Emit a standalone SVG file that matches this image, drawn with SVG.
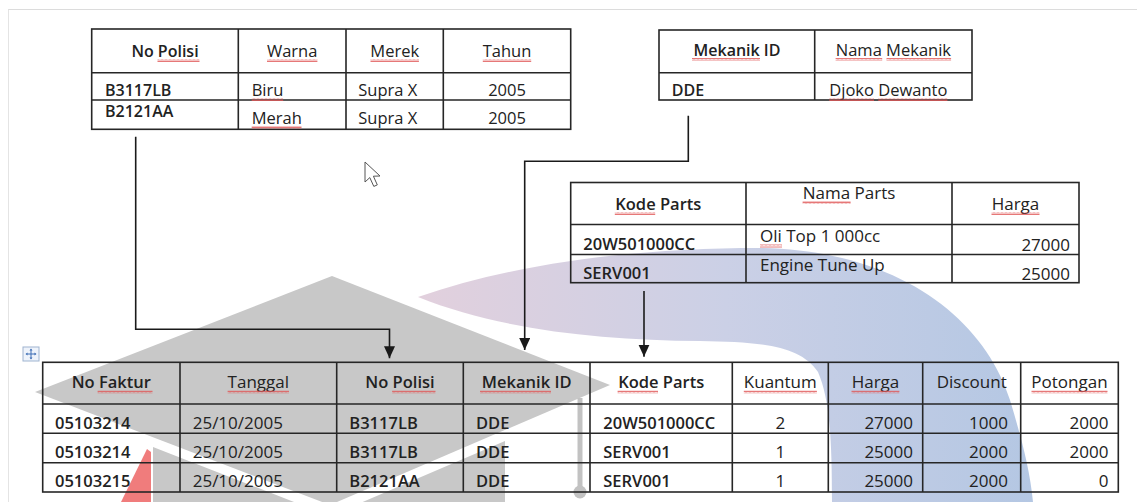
<svg xmlns="http://www.w3.org/2000/svg" width="1137" height="502" viewBox="0 0 1137 502">
  <defs>
    <style>
      .grid { fill: none; stroke: #262626; stroke-width: 1.6; }
      .b  { font-family: "Open Sans", "Liberation Sans", sans-serif; font-weight: 600; font-size: 16px; fill: #222; }
      .r  { font-family: "Open Sans", "Liberation Sans", sans-serif; font-weight: 400; font-size: 16.5px; fill: #222; }
      .b2 { font-family: "Open Sans", "Liberation Sans", sans-serif; font-weight: 600; font-size: 16.5px; fill: #222; }
      .r2 { font-family: "Open Sans", "Liberation Sans", sans-serif; font-weight: 400; font-size: 17px; fill: #222; }
      .c { text-anchor: middle; }
      .e { text-anchor: end; }
      .sq { fill: url(#wave); }
      .link { fill: none; stroke: #1a1a1a; stroke-width: 1.6; marker-end: url(#head); }
    </style>
    <pattern id="wave" width="4" height="3" patternUnits="userSpaceOnUse">
      <path d="M0 2.5 L1 0.5 L2 2.5 L3 0.5 L4 2.5" fill="none" stroke="#e05555" stroke-width="0.8"/>
    </pattern>
    <marker id="head" markerWidth="12" markerHeight="12" refX="12" refY="5.5" orient="auto" markerUnits="userSpaceOnUse">
      <path d="M0 0 L12 5.5 L0 11 Z" fill="#1a1a1a"/>
    </marker>
    <linearGradient id="arcFill" gradientUnits="userSpaceOnUse" x1="418" y1="0" x2="1035" y2="0">
      <stop offset="0" stop-color="#e2d0dd"/>
      <stop offset="0.5" stop-color="#cbd0e6"/>
      <stop offset="1" stop-color="#b4c7e3"/>
    </linearGradient>
  </defs>

  <!-- page edges -->
  <g id="page">
    <line x1="8" y1="9.5" x2="1137" y2="9.5" stroke="#dcdcdc" stroke-width="1"/>
    <line x1="8.5" y1="9.5" x2="8.5" y2="502" stroke="#e4e4e4" stroke-width="1"/>
  </g>

  <!-- background emblem -->
  <g id="emblem">
    <path d="M418 297 C520 262 640 248 760 248 C900 250 985 320 1010 400 C1022 440 1030 470 1033 502 L832 502 C832 440 830 400 818 372 C800 345 760 342 700 341 C600 340 500 330 418 297 Z" fill="url(#arcFill)"/>
    <polygon points="35,392 332,276 610,385 330,505" fill="#c8c8c8"/>
    <polygon points="153,447 330,516 505,441 505,502 153,502" fill="#c8c8c8"/>
    <polygon points="147,449 151,452 151,502 121,502" fill="#f07c7c"/>
    <line x1="580" y1="398" x2="580" y2="488" stroke="#c2c2c2" stroke-width="5"/>
    <circle cx="580" cy="492" r="6.5" fill="#c2c2c2"/>
  </g>

  <!-- vehicle table -->
  <g id="kendaraan">
    <rect class="grid" x="91.7" y="29" width="479" height="100.3"/>
    <path class="grid" d="M91.7 72.7 H570.7 M91.7 100 H570.7 M238.3 29 V129.3 M346 29 V129.3 M443.3 29 V129.3"/>
    <text class="b c" x="165" y="57">No Polisi</text>
    <text class="r c" x="292.2" y="57">Warna</text>
    <text class="r c" x="394.7" y="57">Merek</text>
    <text class="r c" x="507" y="57">Tahun</text>
    <text class="b" x="105" y="96">B3117LB</text>
    <text class="r" x="251.7" y="96">Biru</text>
    <text class="r" x="358.3" y="96">Supra X</text>
    <text class="r c" x="507" y="96">2005</text>
    <text class="b" x="105" y="117">B2121AA</text>
    <text class="r" x="251.7" y="124">Merah</text>
    <text class="r" x="358.3" y="124">Supra X</text>
    <text class="r c" x="507" y="124">2005</text>
    <rect class="sq" x="157.5" y="59" width="42" height="3"/>
    <rect class="sq" x="267" y="59" width="50.4" height="3"/>
    <rect class="sq" x="370.5" y="59" width="48.4" height="3"/>
    <rect class="sq" x="482.8" y="59" width="48.4" height="3"/>
    <rect class="sq" x="251.7" y="98" width="31.5" height="3"/>
    <rect class="sq" x="251.7" y="126" width="49.8" height="3"/>
  </g>

  <!-- mechanic table -->
  <g id="mekanik">
    <rect class="grid" x="659" y="30" width="313" height="70"/>
    <path class="grid" d="M659 72.7 H972 M814.7 30 V100"/>
    <text class="b c" x="737" y="56">Mekanik ID</text>
    <text class="r c" x="893.4" y="56">Nama Mekanik</text>
    <text class="b" x="671.7" y="96">DDE</text>
    <text class="r" x="829.3" y="96">Djoko Dewanto</text>
    <rect class="sq" x="692" y="58" width="68" height="3"/>
    <rect class="sq" x="835.6" y="58" width="46.6" height="3"/>
    <rect class="sq" x="886.5" y="58" width="64.6" height="3"/>
    <rect class="sq" x="829.3" y="98" width="44.7" height="3"/>
    <rect class="sq" x="878.3" y="98" width="69.1" height="3"/>
  </g>

  <!-- parts table -->
  <g id="parts">
    <rect class="grid" x="570.7" y="182.5" width="508.3" height="100.2"/>
    <path class="grid" d="M570.7 224.5 H1079 M570.7 254.5 H1079 M746 182.5 V282.7 M952 182.5 V282.7"/>
    <text class="b2 c" x="658.3" y="210">Kode Parts</text>
    <text class="r2 c" x="849" y="199">Nama Parts</text>
    <text class="r2 c" x="1015.5" y="210">Harga</text>
    <text class="b2" x="583.3" y="250">20W501000CC</text>
    <text class="r2" x="760" y="242">Oli Top 1 000cc</text>
    <text class="r2 e" x="1070" y="251">27000</text>
    <text class="b2" x="583.3" y="279">SERV001</text>
    <text class="r2" x="760" y="271">Engine Tune Up</text>
    <text class="r2 e" x="1070" y="280">25000</text>
    <rect class="sq" x="614.8" y="212" width="40.4" height="3"/>
    <rect class="sq" x="802.6" y="201" width="48" height="3"/>
    <rect class="sq" x="991.5" y="212" width="48" height="3"/>
    <rect class="sq" x="760" y="244.5" width="22" height="3"/>
  </g>

  <!-- service invoice table -->
  <g id="faktur">
    <rect class="grid" x="42.7" y="362.3" width="1075.6" height="129.7"/>
    <path class="grid" d="M42.7 404 H1118.3 M42.7 433.3 H1118.3 M42.7 462.7 H1118.3 M180 362.3 V492 M336.7 362.3 V492 M463.3 362.3 V492 M590 362.3 V492 M732.3 362.3 V492 M828.3 362.3 V492 M922.7 362.3 V492 M1020.7 362.3 V492"/>
    <text class="b2 c" x="111.3" y="388">No Faktur</text>
    <text class="r2 c" x="258.3" y="388">Tanggal</text>
    <text class="b2 c" x="400" y="388">No Polisi</text>
    <text class="b2 c" x="526.7" y="388">Mekanik ID</text>
    <text class="b2 c" x="661.2" y="388">Kode Parts</text>
    <text class="r2 c" x="780.3" y="388">Kuantum</text>
    <text class="r2 c" x="875.5" y="388">Harga</text>
    <text class="r2 c" x="971.7" y="388">Discount</text>
    <text class="r2 c" x="1069.5" y="388">Potongan</text>

    <text class="b2" x="55" y="428.5">05103214</text>
    <text class="r2" x="192.7" y="428.5">25/10/2005</text>
    <text class="b2" x="349.3" y="428.5">B3117LB</text>
    <text class="b2" x="476" y="428.5">DDE</text>
    <text class="b2" x="603.3" y="428.5">20W501000CC</text>
    <text class="r2 c" x="780.3" y="428.5">2</text>
    <text class="r2 e" x="913" y="428.5">27000</text>
    <text class="r2 e" x="1008" y="428.5">1000</text>
    <text class="r2 e" x="1108.5" y="428.5">2000</text>

    <text class="b2" x="55" y="457.5">05103214</text>
    <text class="r2" x="192.7" y="457.5">25/10/2005</text>
    <text class="b2" x="349.3" y="457.5">B3117LB</text>
    <text class="b2" x="476" y="457.5">DDE</text>
    <text class="b2" x="603.3" y="457.5">SERV001</text>
    <text class="r2 c" x="780.3" y="457.5">1</text>
    <text class="r2 e" x="913" y="457.5">25000</text>
    <text class="r2 e" x="1008" y="457.5">2000</text>
    <text class="r2 e" x="1108.5" y="457.5">2000</text>

    <text class="b2" x="55" y="486.5">05103215</text>
    <text class="r2" x="192.7" y="486.5">25/10/2005</text>
    <text class="b2" x="349.3" y="486.5">B2121AA</text>
    <text class="b2" x="476" y="486.5">DDE</text>
    <text class="b2" x="603.3" y="486.5">SERV001</text>
    <text class="r2 c" x="780.3" y="486.5">1</text>
    <text class="r2 e" x="913" y="486.5">25000</text>
    <text class="r2 e" x="1008" y="486.5">2000</text>
    <text class="r2 e" x="1108.5" y="486.5">0</text>

    <rect class="sq" x="97.6" y="390.5" width="54.9" height="3"/>
    <rect class="sq" x="227.6" y="390.5" width="61.4" height="3"/>
    <rect class="sq" x="392.1" y="390.5" width="43.4" height="3"/>
    <rect class="sq" x="480" y="390.5" width="71" height="3"/>
    <rect class="sq" x="617.6" y="390.5" width="40.4" height="3"/>
    <rect class="sq" x="743.8" y="390.5" width="73.1" height="3"/>
    <rect class="sq" x="851.5" y="390.5" width="47.9" height="3"/>
    <rect class="sq" x="1031.5" y="390.5" width="76" height="3"/>
  </g>

  <!-- relations -->
  <g id="connectors">
    <path class="link" d="M135.7 136.7 V329.3 H389.5 V358.3"/>
    <path class="link" d="M688.3 115.7 V161.3 H524.7 V350"/>
    <path class="link" d="M644 291 V356.7"/>
  </g>

  <!-- table move handle -->
  <g id="move-handle">
    <rect x="23" y="347" width="16" height="14" fill="#eef3fb" stroke="#9fb4d0" stroke-width="1"/>
    <path d="M31 349.5 V358.5 M26.5 354 H35.5" stroke="#3f6fb5" stroke-width="1"/>
    <path d="M31 348.5 L29.5 350.5 H32.5 Z M31 359.5 L29.5 357.5 H32.5 Z M25.5 354 L27.5 352.5 V355.5 Z M36.5 354 L34.5 352.5 V355.5 Z" fill="#3f6fb5"/>
  </g>

  <!-- pointer -->
  <g id="pointer">
    <path d="M365 162 L365 182 L369.8 177.6 L373.8 186.4 L377.3 184.9 L373.4 176.2 L380 176 Z" fill="#ffffff" stroke="#555" stroke-width="1" stroke-linejoin="round"/>
  </g>
</svg>
